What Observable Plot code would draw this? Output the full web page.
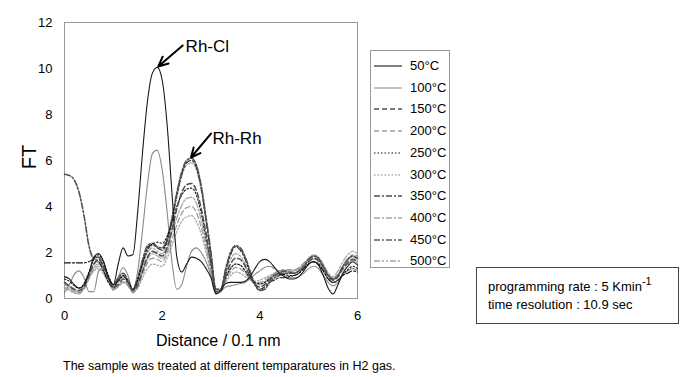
<!DOCTYPE html>
<html><head><meta charset="utf-8">
<script src="https://cdn.jsdelivr.net/npm/d3@7"></script>
<script src="https://cdn.jsdelivr.net/npm/@observablehq/plot@0.6"></script>
<style>
body{margin:0;background:#fff;font-family:"Liberation Sans",Arial,sans-serif;}
#wrap{position:relative;width:687px;height:377px;overflow:hidden;background:#fff;}
.abs{position:absolute;white-space:nowrap;color:#000;}
#legend{position:absolute;left:370px;top:50px;width:80px;height:218px;border:1px solid #999;box-sizing:border-box;background:#fff;}
.row{position:absolute;left:2px;height:14px;font-size:13px;line-height:14px;}
.row svg{position:absolute;left:0;top:0;}
.row span{position:absolute;left:37px;top:0;}
#note{position:absolute;left:476px;top:267px;width:203px;height:57px;border:1px solid #444;box-sizing:border-box;font-size:13px;}
</style></head>
<body><div id="wrap"></div>
<script>
const distance = [0,0.1,0.2,0.3,0.4,0.5,0.6,0.7,0.8,0.9,1.0,1.1,1.2,1.3,1.4,1.5,1.6,1.7,1.8,1.9,2.0,2.1,2.2,2.3,2.4,2.5,2.6,2.7,2.8,2.9,3.0,3.1,3.2,3.3,3.4,3.5,3.6,3.7,3.8,3.9,4.0,4.1,4.2,4.3,4.4,4.5,4.6,4.7,4.8,4.9,5.0,5.1,5.2,5.3,5.4,5.5,5.6,5.7,5.8,5.9,6.0];
const t50  = [0.95,0.85,0.6,0.45,0.6,1.1,1.8,1.95,1.6,0.9,0.6,1.5,2.2,1.85,1.9,3.8,6.4,8.6,9.8,10.05,9.5,7.6,4.6,1.8,1.15,1.5,1.8,1.75,1.6,1.3,0.9,0.2,0.35,0.65,0.7,0.7,0.7,0.75,0.95,1.3,1.6,1.7,1.6,1.35,1.1,0.95,0.85,0.85,0.95,1.2,1.5,1.6,1.45,1.0,0.45,0.2,0.6,1.1,1.4,1.6,1.45];
const t100 = [0.25,0.6,1.05,1.2,0.9,0.3,0.3,1.2,1.35,0.9,0.35,0.9,1.35,1.0,0.35,1.2,3.0,5.0,6.3,6.45,5.6,3.8,1.6,0.4,0.6,1.4,2.05,2.2,2.0,1.6,1.0,0.2,0.3,0.5,0.55,0.6,0.65,0.7,0.85,1.05,1.2,1.35,1.4,1.3,1.15,1.0,0.9,0.9,0.95,1.1,1.3,1.4,1.3,1.0,0.7,0.55,0.7,1.0,1.2,1.3,1.2];
const t150 = [0.7,0.55,0.4,0.35,0.5,1.0,1.5,1.7,1.4,0.9,0.5,0.6,0.85,0.7,0.35,0.6,1.2,1.8,2.05,1.95,1.85,2.2,3.0,3.9,4.6,4.95,5.0,4.7,3.9,2.8,1.6,0.3,0.35,1.0,1.5,1.75,1.7,1.4,0.95,0.6,0.5,0.6,0.8,1.0,1.1,1.2,1.15,1.1,1.2,1.4,1.6,1.75,1.65,1.35,0.95,0.8,0.95,1.3,1.55,1.7,1.6];
const t200 = [0.65,0.5,0.3,0.25,0.4,0.85,1.25,1.4,1.15,0.75,0.4,0.5,0.7,0.55,0.25,0.5,1.05,1.55,1.75,1.7,1.6,1.95,2.55,3.2,3.7,3.95,4.0,3.75,3.1,2.2,1.2,0.25,0.3,0.8,1.15,1.35,1.3,1.1,0.85,0.7,0.7,0.8,0.95,1.1,1.2,1.25,1.25,1.25,1.35,1.55,1.75,1.85,1.75,1.45,1.1,0.9,1.05,1.4,1.7,1.9,1.85];
const t250 = [0.85,0.75,0.55,0.45,0.65,1.15,1.7,1.9,1.6,1.0,0.6,0.75,0.95,0.75,0.4,0.8,1.5,2.1,2.35,2.45,2.4,2.7,3.3,4.0,4.5,4.75,4.8,4.5,3.7,2.6,1.5,0.3,0.35,0.9,1.3,1.5,1.45,1.2,0.9,0.7,0.65,0.7,0.85,1.0,1.05,1.05,1.0,1.0,1.1,1.3,1.5,1.6,1.5,1.2,0.85,0.7,0.8,1.05,1.25,1.4,1.3];
const t300 = [0.45,0.35,0.25,0.3,0.5,0.9,1.2,1.3,1.05,0.7,0.45,0.55,0.7,0.55,0.3,0.45,0.9,1.3,1.5,1.45,1.4,1.75,2.3,2.9,3.35,3.55,3.6,3.35,2.8,2.0,1.1,0.25,0.3,0.7,1.0,1.15,1.1,0.95,0.8,0.75,0.8,0.9,1.0,1.1,1.15,1.15,1.1,1.1,1.2,1.4,1.6,1.7,1.6,1.3,1.0,0.85,0.95,1.25,1.5,1.65,1.55];
const t350 = [5.4,5.35,5.15,4.6,3.6,2.3,1.75,1.8,1.4,0.9,0.6,0.9,1.1,0.8,0.4,0.9,1.7,2.3,2.4,2.25,2.2,2.6,3.5,4.6,5.5,6.0,6.1,5.8,4.9,3.5,2.0,0.4,0.4,1.3,2.0,2.3,2.2,1.8,1.2,0.6,0.35,0.4,0.7,0.9,1.0,1.1,1.1,1.1,1.2,1.4,1.7,1.85,1.75,1.4,1.0,0.85,1.0,1.4,1.7,1.85,1.75];
const t400 = [0.5,0.4,0.25,0.2,0.45,0.9,1.35,1.5,1.25,0.8,0.45,0.55,0.75,0.6,0.3,0.6,1.2,1.7,1.95,1.85,1.75,2.1,2.8,3.5,4.05,4.35,4.4,4.15,3.4,2.4,1.35,0.25,0.3,0.85,1.3,1.5,1.45,1.2,0.85,0.65,0.6,0.7,0.9,1.05,1.15,1.2,1.2,1.2,1.3,1.5,1.7,1.8,1.7,1.4,1.0,0.85,1.0,1.35,1.65,1.8,1.7];
const t450 = [1.55,1.55,1.55,1.55,1.55,1.6,1.7,1.6,1.2,0.7,0.5,0.8,1.0,0.7,0.35,0.8,1.6,2.2,2.35,2.2,2.1,2.5,3.4,4.5,5.4,5.9,6.0,5.7,4.8,3.4,1.9,0.4,0.4,1.2,1.9,2.25,2.1,1.7,1.1,0.6,0.4,0.5,0.7,0.8,0.9,0.9,0.95,1.0,1.1,1.3,1.5,1.6,1.5,1.2,0.85,0.7,0.8,1.0,1.1,1.2,1.15];
const t500 = [0.6,0.5,0.35,0.3,0.6,1.1,1.5,1.6,1.3,0.8,0.45,0.7,1.0,0.75,0.35,0.7,1.4,2.0,2.2,2.05,1.95,2.4,3.3,4.4,5.3,5.8,5.9,5.6,4.7,3.3,1.8,0.35,0.4,1.1,1.7,1.95,1.85,1.5,1.0,0.7,0.6,0.7,0.9,1.1,1.2,1.2,1.15,1.2,1.3,1.5,1.75,1.9,1.8,1.5,1.1,0.95,1.2,1.6,1.9,2.05,1.95];
const seriesNames = ["50°C","100°C","150°C","200°C","250°C","300°C","350°C","400°C","450°C","500°C"];
const seriesValues = [t50,t100,t150,t200,t250,t300,t350,t400,t450,t500];
const xTicks = [0,2,4,6];
const yTicks = [0,2,4,6,8,10,12];
const peakLabels = ["Rh-Cl","Rh-Rh"];

const styles = [
  {stroke:"#1a1a1a", w:1.1, dash:null},
  {stroke:"#8a8a8a", w:1.1, dash:null},
  {stroke:"#505050", w:1.6, dash:"5,3"},
  {stroke:"#9c9c9c", w:1.3, dash:"5,3"},
  {stroke:"#111111", w:1.1, dash:"1.5,2"},
  {stroke:"#a8a8a8", w:1.3, dash:"1.5,2"},
  {stroke:"#505050", w:1.6, dash:"6,2,2,2"},
  {stroke:"#a8a8a8", w:1.3, dash:"6,2,2,2"},
  {stroke:"#111111", w:1.1, dash:"6,2,2,2"},
  {stroke:"#a8a8a8", w:1.3, dash:"6,2,2,2,2,2"}
];

const rows = [];
seriesValues.forEach((vals, s) => vals.forEach((v, i) => rows.push({x: distance[i], v, s})));

const drawOrder = [9,7,5,3,1,8,6,4,2,0];
const lineMarks = drawOrder.map(s => Plot.line(rows.filter(d => d.s === s), {
  x: "x", y: "v", curve: "monotone-x", stroke: styles[s].stroke, strokeWidth: styles[s].w,
  strokeDasharray: styles[s].dash || undefined
}));

// annotation anchors in data units (arrow heads at the peaks read from the series)
const arrows = [
  {x1: 2.42, y1: 11.0, x2: distance[19]+0.02, y2: t50[19]+0.04, label: peakLabels[0], tx: 2.48, ty: 10.95},
  {x1: 3.0, y1: 7.17, x2: distance[26]-0.01, y2: t350[26]+0.03, label: peakLabels[1], tx: 3.03, ty: 6.96}
];

const chart = Plot.plot({
  width: 687, height: 377,
  marginLeft: 64, marginRight: 330, marginTop: 22, marginBottom: 79,
  style: {fontFamily: '"Liberation Sans", Arial, sans-serif', fontSize: "13px", background: "transparent"},
  x: {domain: [0, 6], ticks: xTicks, label: null},
  y: {domain: [0, 12], ticks: yTicks, label: null},
  marks: [
    Plot.frame({stroke: "#999"}),
    ...lineMarks,
    Plot.axisX({ticks: xTicks, tickFormat: d3.format("d"), tickSize: 0, tickPadding: 12, label: null, fontSize: 13}),
    Plot.axisY({ticks: yTicks, tickFormat: d3.format("d"), tickSize: 0, tickPadding: 12, label: null, fontSize: 13}),
    Plot.arrow(arrows, {x1: "x1", y1: "y1", x2: "x2", y2: "y2", stroke: "#000", strokeWidth: 2, headLength: 9, headAngle: 50}),
    Plot.text(arrows, {x: "tx", y: "ty", text: "label", textAnchor: "start", fontSize: 17, fill: "#000"})
  ]
});

const wrap = document.getElementById("wrap");
chart.style.position = "absolute"; chart.style.left = "0"; chart.style.top = "0";
wrap.appendChild(chart);

function addDiv(html, css, cls) {
  const d = document.createElement("div");
  d.className = cls || "abs";
  d.innerHTML = html;
  Object.assign(d.style, css);
  wrap.appendChild(d);
  return d;
}
addDiv("FT", {left: "17px", top: "146px", fontSize: "20px", transform: "rotate(-90deg)", transformOrigin: "center", lineHeight: "22px"});
addDiv("Distance / 0.1 nm", {left: "156px", top: "332px", fontSize: "16px", lineHeight: "18px"});
addDiv("The sample was treated at different temparatures in H2 gas.", {left: "63px", top: "359px", fontSize: "12.5px", lineHeight: "14px"});

const legend = addDiv("", {}, "");
legend.id = "legend";
seriesNames.forEach((name, i) => {
  const st = styles[i];
  const r = document.createElement("div");
  r.className = "row";
  r.style.top = (8 + i * 21.7) + "px";
  r.innerHTML = `<svg width="30" height="14"><line x1="1" x2="29" y1="7" y2="7" stroke="${st.stroke}" stroke-width="${st.w}" ${st.dash ? `stroke-dasharray="${st.dash}"` : ""}/></svg><span>${name}</span>`;
  legend.appendChild(r);
});

const note = addDiv(`<div style="position:absolute;left:11px;top:10px;line-height:17px;">programming rate : 5 Kmin<span style="font-size:11px;position:relative;top:-6px;">-1</span><br>time resolution : 10.9 sec</div>`, {}, "");
note.id = "note";
</script>
</body></html>
